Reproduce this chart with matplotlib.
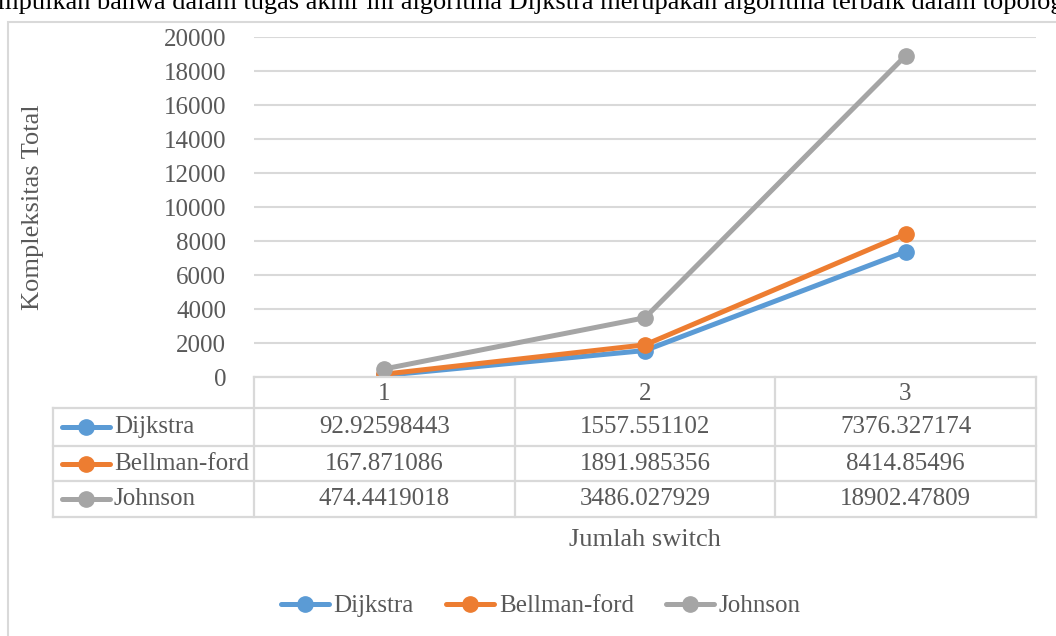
import matplotlib.pyplot as plt
from matplotlib.lines import Line2D
from matplotlib.patches import Rectangle

plt.rcParams['font.family'] = ['Liberation Serif', 'DejaVu Serif']

categories = ['1', '2', '3']
series_names = ['Dijkstra', 'Bellman-ford', 'Johnson']
dijkstra = [92.92598443, 1557.551102, 7376.327174]
bellman_ford = [167.871086, 1891.985356, 8414.85496]
johnson = [474.4419018, 3486.027929, 18902.47809]
cell_text = [
    ['92.92598443', '1557.551102', '7376.327174'],
    ['167.871086', '1891.985356', '8414.85496'],
    ['474.4419018', '3486.027929', '18902.47809'],
]
colors = ['#5B9BD5', '#ED7D31', '#A5A5A5']
text_color = '#595959'
grid_color = '#D9D9D9'

W, H = 1056, 636
fig = plt.figure(figsize=(W / 100, H / 100), dpi=100)


def fx(px):
    return px / W


def fy(py):
    return 1 - py / H


# chart frame (partly outside the page)
fig.patches.append(Rectangle((fx(8), -0.1), 1.2, fy(22) + 0.1, transform=fig.transFigure,
                             fill=False, edgecolor=grid_color, linewidth=1.5))

# surrounding document text, cut at the top edge
fig.text(fx(-2), fy(9), 'mpulkan bahwa dalam tugas akhir ini algoritma Dijkstra merupakan '
         'algoritma terbaik dalam topologi', fontsize=19, color='black',
         ha='left', va='baseline')

ax = fig.add_axes([fx(254), fy(377), fx(1036) - fx(254), fy(37) - fy(377)])
x = list(range(len(categories)))
for name, vals, c in zip(series_names, [dijkstra, bellman_ford, johnson], colors):
    ax.plot(x, vals, color=c, linewidth=3.6, marker='o', markersize=11,
            solid_capstyle='round', label=name)

ax.set_xlim(-0.5, len(categories) - 0.5)
ax.set_ylim(0, 20000)
ax.set_yticks(range(0, 20001, 2000))
ax.set_xticks([])
ax.grid(axis='y', color=grid_color, linewidth=1.5)
ax.set_axisbelow(True)
for s in ax.spines.values():
    s.set_visible(False)
ax.tick_params(axis='y', length=0, pad=20, labelsize=18, labelcolor=text_color)
fig.text(fx(33), fy(207), 'Kompleksitas Total', fontsize=19, color=text_color,
         rotation=90, ha='center', va='center')

# data table below the plot
col_edges = [254, 515, 775, 1036]
row_edges = [377, 408, 446, 481, 517]
tbl_left = 53
lc = grid_color
lw = 1.6
fig.add_artist(Line2D([fx(254), fx(1036)], [fy(377), fy(377)], color=lc, lw=lw))
for ry in row_edges[1:]:
    fig.add_artist(Line2D([fx(tbl_left), fx(1036)], [fy(ry), fy(ry)], color=lc, lw=lw))
for cx in col_edges:
    fig.add_artist(Line2D([fx(cx), fx(cx)], [fy(377), fy(517)], color=lc, lw=lw))
fig.add_artist(Line2D([fx(tbl_left), fx(tbl_left)], [fy(408), fy(517)], color=lc, lw=lw))

for j, cat in enumerate(categories):
    cx = (col_edges[j] + col_edges[j + 1]) / 2
    fig.text(fx(cx), fy((row_edges[0] + row_edges[1]) / 2 + 1), cat, fontsize=18,
             color=text_color, ha='center', va='center')

for i, name in enumerate(series_names):
    cy = (row_edges[i + 1] + row_edges[i + 2]) / 2
    fig.add_artist(Line2D([fx(62), fx(110)], [fy(cy), fy(cy)], color=colors[i], lw=3.6,
                          solid_capstyle='round'))
    fig.add_artist(Line2D([fx(86)], [fy(cy)], color=colors[i], marker='o', markersize=11))
    fig.text(fx(114), fy(cy), name, fontsize=18, color=text_color, ha='left', va='center')
    for j in range(len(categories)):
        cx = (col_edges[j] + col_edges[j + 1]) / 2
        fig.text(fx(cx), fy(cy), cell_text[i][j], fontsize=18, color=text_color,
                 ha='center', va='center')

fig.text(fx(645), fy(540), 'Jumlah switch', fontsize=19, color=text_color,
         ha='center', va='center')

handles, labels = ax.get_legend_handles_labels()
fig.legend(handles, labels, loc='center', bbox_to_anchor=(fx(541), fy(606)), ncol=3,
           frameon=False, fontsize=18, handlelength=1.9, handletextpad=0.2,
           columnspacing=1.3, labelcolor=text_color)

fig.savefig('out.png', dpi=100)
